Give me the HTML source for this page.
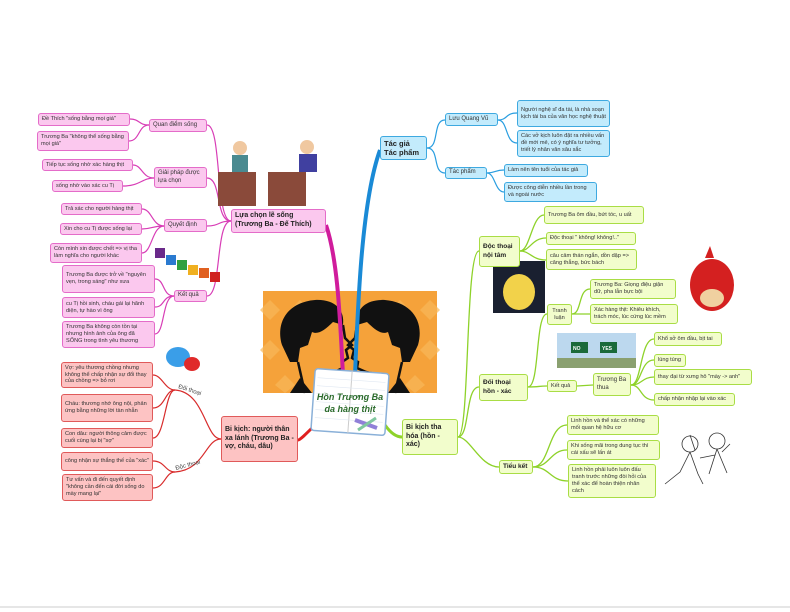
<!DOCTYPE html>
<html><head><meta charset="utf-8"><style>
body{margin:0;width:790px;height:612px;background:#fff;position:relative;overflow:hidden;font-family:"Liberation Sans",sans-serif}
.n{position:absolute;box-sizing:border-box;font-size:5.6px;line-height:1.25;color:#333;padding:1px 3px;border-radius:3px;display:flex;align-items:center}
.p{background:#fbc8ee;border:1.3px solid #e46cc9}
.b{background:#c3ebfc;border:1.3px solid #3ea9e0}
.g{background:#f2fdcc;border:1.3px solid #a9dd45}
.r{background:#fdc3c3;border:1.3px solid #e05a5a}
.h{font-weight:bold;font-size:7px;color:#222}
svg{position:absolute;left:0;top:0}
</style></head><body>
<svg width="790" height="612" viewBox="0 0 790 612" fill="none">
<!-- central image -->
<rect x="263" y="291" width="174" height="102" fill="#f5a23a"/>
<g fill="#f8b85a" opacity=".7">
<path d="M270 300l10 10-10 10-10-10zM300 300l10 10-10 10-10-10zM400 300l10 10-10 10-10-10zM430 300l10 10-10 10-10-10zM270 340l10 10-10 10-10-10zM430 340l10 10-10 10-10-10zM285 375l10 10-10 8-10-8zM415 375l10 10-10 8-10-8z"/></g>
<!-- left head -->
<path d="M282 345 C275 320 290 302 315 300 C335 299 345 310 343 325 L333 322 C325 330 318 335 312 332 L308 345 L300 348 L298 362 L290 362Z" fill="#111"/>
<path d="M343 325 L345 338 L352 345 L346 350 L348 358 L342 362 L343 368 L334 372 L320 375 L315 393" stroke="#111" stroke-width="2.5"/>
<path d="M298 362 L305 393" stroke="#111" stroke-width="2.5"/>
<path d="M300 378 L290 393 L312 393Z" fill="#111"/>
<!-- right head -->
<path d="M418 345 C425 320 410 302 385 300 C365 299 355 310 357 325 L367 322 C375 330 382 335 388 332 L392 345 L400 348 L402 362 L410 362Z" fill="#111"/>
<path d="M357 325 L355 338 L348 345 L354 350 L352 358 L358 362 L357 368 L366 372 L380 375 L385 393" stroke="#111" stroke-width="2.5"/>
<path d="M402 362 L395 393" stroke="#111" stroke-width="2.5"/>
<path d="M400 378 L410 393 L388 393Z" fill="#111"/>
<!-- main branches -->
<path d="M326 225 C338 260 340 320 343 375" stroke="#d01c9c" stroke-width="4"/>
<path d="M380 150 C362 200 358 300 355 375" stroke="#1a8ad6" stroke-width="4"/>
<path d="M315 425 C305 435 300 440 298 440" stroke="#e02020" stroke-width="3"/>
<path d="M385 425 C392 435 398 437 402 437" stroke="#8ed22a" stroke-width="3"/>
<!-- pink connectors -->
<g stroke="#d83db6" stroke-width="1.2">
<path d="M231 221 C215 221 222 125 207 125"/>
<path d="M231 221 C215 221 222 178 207 178"/>
<path d="M231 221 C218 221 220 226 207 226"/>
<path d="M231 221 C215 221 222 296 207 296"/>
<path d="M149 125 C138 125 140 119 130 119"/><path d="M149 125 C138 125 140 141 129 141"/>
<path d="M154 178 C142 178 142 165 133 165"/><path d="M154 178 C142 178 140 186 123 186"/>
<path d="M164 226 C152 226 152 209 142 209"/><path d="M164 226 C152 226 152 229 142 229"/><path d="M164 226 C152 226 152 253 142 253"/>
<path d="M174 296 C162 296 165 279 155 279"/><path d="M174 296 C162 296 165 307 155 307"/><path d="M174 296 C162 296 165 334 155 334"/>
</g>
<!-- blue connectors -->
<g stroke="#2a9ee0" stroke-width="1.2">
<path d="M427 148 C440 148 432 120 445 120"/><path d="M427 148 C440 148 432 173 445 173"/>
<path d="M498 120 C508 120 505 113 517 113"/><path d="M498 120 C508 120 505 143 517 143"/>
<path d="M487 173 C495 173 495 170 504 170"/><path d="M487 173 C495 173 495 192 504 192"/>
</g>
<!-- green connectors -->
<g stroke="#8ed22a" stroke-width="1.3">
<path d="M458 437 C470 437 465 251 479 251"/>
<path d="M458 437 C470 437 465 387 479 387"/>
<path d="M458 437 C470 437 480 467 499 467"/>
<path d="M520 251 C530 251 532 215 544 215"/><path d="M520 251 C530 251 532 238 546 238"/><path d="M520 251 C530 251 532 260 546 260"/>
<path d="M528 387 C540 387 535 314 547 314"/><path d="M528 387 C540 387 538 386 547 386"/>
<path d="M572 314 C582 314 578 289 590 289"/><path d="M572 314 C582 314 580 314 590 314"/>
<path d="M577 386 L593 385"/>
<path d="M631 385 C642 385 640 339 654 339"/><path d="M631 385 C642 385 640 360 654 360"/><path d="M631 385 C642 385 642 377 654 377"/><path d="M631 385 C642 385 640 400 654 400"/>
<path d="M533 467 C550 467 548 425 567 425"/><path d="M533 467 C550 467 550 450 567 450"/><path d="M533 467 C550 467 550 481 568 481"/>
</g>
<!-- red connectors -->
<g stroke="#d82c2c" stroke-width="1.2">
<path d="M221 439 C205 439 205 392 175 390 C165 390 162 375 153 375"/>
<path d="M175 390 C165 390 165 408 153 408"/><path d="M175 390 C165 390 165 438 153 438"/>
<path d="M221 439 C205 439 205 470 175 472 C165 472 165 461 153 461"/><path d="M175 472 C165 472 165 488 153 488"/>
</g>
<text x="178" y="388" font-size="6" fill="#444" transform="rotate(18 178 388)" font-family="Liberation Sans">Đối thoại</text>
<text x="176" y="470" font-size="6" fill="#444" transform="rotate(-15 176 470)" font-family="Liberation Sans">Độc thoại</text>
<!-- decorative images -->
<g><rect x="218" y="172" width="38" height="34" fill="#8a4a3a"/><rect x="268" y="172" width="38" height="34" fill="#8a4a3a"/>
<circle cx="240" cy="148" r="7" fill="#f0c8a0"/><rect x="232" y="155" width="16" height="17" fill="#4a8a90"/>
<circle cx="307" cy="147" r="7" fill="#f0c8a0"/><rect x="299" y="154" width="18" height="18" fill="#4040a0"/></g>
<g><rect x="155" y="248" width="10" height="10" fill="#6a2a8a"/><rect x="166" y="255" width="10" height="10" fill="#2a7ad0"/><rect x="177" y="260" width="10" height="10" fill="#30a040"/><rect x="188" y="265" width="10" height="10" fill="#f0b020"/><rect x="199" y="268" width="10" height="10" fill="#e06020"/><rect x="210" y="272" width="10" height="10" fill="#d02020"/></g>
<g><rect x="493" y="261" width="52" height="52" fill="#1a2030"/><ellipse cx="519" cy="292" rx="16" ry="18" fill="#f2d24a"/></g>
<g><ellipse cx="712" cy="285" rx="22" ry="26" fill="#d42020"/><ellipse cx="712" cy="298" rx="12" ry="9" fill="#f0d0a0"/><path d="M705 258 l5 -12 4 12z" fill="#d42020"/></g>
<g><rect x="557" y="333" width="79" height="35" fill="#bcd8ee"/><rect x="557" y="358" width="79" height="10" fill="#8aa070"/><rect x="571" y="342" width="17" height="11" fill="#1a6a3a"/><rect x="600" y="342" width="17" height="11" fill="#1a6a3a"/>
<text x="573" y="350" font-size="5" fill="#fff" font-weight="bold" font-family="Liberation Sans">NO</text><text x="602" y="350" font-size="5" fill="#fff" font-weight="bold" font-family="Liberation Sans">YES</text></g>
<g stroke="#333" stroke-width="0.8"><circle cx="690" cy="444" r="8"/><circle cx="717" cy="441" r="8"/><path d="M690 452 l-10 20 -15 12 M690 452 l8 22 5 10 M717 449 l-8 25 M717 449 l10 24 M700 458 l15 -3 M722 452 l8 -8 M695 450 l-5 -15"/></g>
<g><ellipse cx="178" cy="357" rx="12" ry="10" fill="#3a9ee8"/><ellipse cx="192" cy="364" rx="8" ry="7" fill="#e02a2a"/></g>
<!-- central book -->
<g transform="rotate(4 350 402)"><rect x="313" y="371" width="74" height="62" rx="3" fill="#fff" stroke="#8ab0d8" stroke-width="1.5"/><line x1="350" y1="371" x2="350" y2="433" stroke="#ccc"/>
<g stroke="#e0e8f2" stroke-width=".6"><line x1="316" y1="380" x2="384" y2="380"/><line x1="316" y1="388" x2="384" y2="388"/><line x1="316" y1="396" x2="384" y2="396"/><line x1="316" y1="404" x2="384" y2="404"/><line x1="316" y1="412" x2="384" y2="412"/><line x1="316" y1="420" x2="384" y2="420"/></g></g>
<path d="M355 420 l22 8" stroke="#9080d8" stroke-width="4"/><path d="M358 430 l18 -12" stroke="#80c8a0" stroke-width="3"/>
<text x="350" y="400" font-size="9" font-style="italic" font-weight="bold" fill="#2a6a2a" text-anchor="middle" font-family="Liberation Sans">Hồn Trương Ba</text>
<text x="350" y="412" font-size="9" font-style="italic" font-weight="bold" fill="#2a6a2a" text-anchor="middle" font-family="Liberation Sans">da hàng thịt</text>
<line x1="0" y1="607" x2="790" y2="607" stroke="#ccc"/>
</svg>
<!-- pink -->
<div class="n p" style="left:38px;top:113px;width:92px;height:13px">Đề Thích "sống bằng mọi giá"</div>
<div class="n p" style="left:37px;top:131px;width:92px;height:20px">Trương Ba "không thể sống bằng mọi giá"</div>
<div class="n p" style="left:149px;top:119px;width:58px;height:13px;font-size:6px">Quan điểm sống</div>
<div class="n p" style="left:42px;top:159px;width:91px;height:12px">Tiếp tục sống nhờ xác hàng thịt</div>
<div class="n p" style="left:52px;top:180px;width:71px;height:12px">sống nhờ vào xác cu Tị</div>
<div class="n p" style="left:154px;top:167px;width:53px;height:21px;font-size:6px">Giải pháp được lựa chọn</div>
<div class="n p" style="left:61px;top:203px;width:81px;height:12px">Trả xác cho người hàng thịt</div>
<div class="n p" style="left:60px;top:223px;width:82px;height:12px">Xin cho cu Tị được sống lại</div>
<div class="n p" style="left:50px;top:243px;width:92px;height:20px">Còn mình xin được chết => vị tha làm nghĩa cho người khác</div>
<div class="n p" style="left:164px;top:219px;width:43px;height:13px;font-size:6px">Quyết định</div>
<div class="n p h" style="left:231px;top:209px;width:95px;height:24px">Lựa chọn lẽ sống (Trương Ba - Đế Thích)</div>
<div class="n p" style="left:62px;top:265px;width:93px;height:28px">Trương Ba được trở về "nguyên vẹn, trong sáng" như xưa</div>
<div class="n p" style="left:62px;top:297px;width:93px;height:21px">cu Tị hồi sinh, cháu gái lại hãnh diện, tự hào vì ông</div>
<div class="n p" style="left:62px;top:321px;width:93px;height:27px">Trương Ba không còn tồn tại nhưng hình ảnh của ông đã SỐNG trong tình yêu thương</div>
<div class="n p" style="left:174px;top:290px;width:33px;height:12px;font-size:6px">Kết quả</div>
<!-- blue -->
<div class="n b h" style="left:380px;top:136px;width:47px;height:24px;font-size:7.5px">Tác giả Tác phẩm</div>
<div class="n b" style="left:445px;top:113px;width:53px;height:13px;font-size:6px">Lưu Quang Vũ</div>
<div class="n b" style="left:517px;top:100px;width:93px;height:27px">Người nghệ sĩ đa tài, là nhà soạn kịch tài ba của văn học nghệ thuật</div>
<div class="n b" style="left:517px;top:130px;width:93px;height:27px">Các vở kịch luôn đặt ra nhiều vấn đề mới mẻ, có ý nghĩa tư tưởng, triết lý nhân văn sâu sắc</div>
<div class="n b" style="left:445px;top:167px;width:42px;height:12px;font-size:6px">Tác phẩm</div>
<div class="n b" style="left:504px;top:164px;width:84px;height:13px">Làm nên tên tuổi của tác giả</div>
<div class="n b" style="left:504px;top:182px;width:93px;height:20px">Được công diễn nhiều lần trong và ngoài nước</div>
<!-- green -->
<div class="n g h" style="left:479px;top:236px;width:41px;height:31px;font-size:6.5px">Độc thoại nội tâm</div>
<div class="n g" style="left:544px;top:206px;width:100px;height:18px">Trương Ba ôm đầu, bứt tóc, u uất</div>
<div class="n g" style="left:546px;top:232px;width:90px;height:13px">Độc thoại " không! không!.."</div>
<div class="n g" style="left:546px;top:249px;width:91px;height:21px">câu cảm thán ngắn, dồn dập => căng thẳng, bức bách</div>
<div class="n g" style="left:590px;top:279px;width:86px;height:20px">Trương Ba: Giọng điệu giận dữ, pha lẫn bực bội</div>
<div class="n g" style="left:590px;top:304px;width:88px;height:20px">Xác hàng thịt: Khiêu khích, trách móc, lúc cứng lúc mềm</div>
<div class="n g" style="left:547px;top:304px;width:25px;height:21px;text-align:center">Tranh luận</div>
<div class="n g h" style="left:479px;top:374px;width:49px;height:27px;font-size:6.5px">Đối thoại hồn - xác</div>
<div class="n g" style="left:547px;top:380px;width:30px;height:12px">Kết quả</div>
<div class="n g" style="left:593px;top:373px;width:38px;height:23px;font-size:6px">Trương Ba thua</div>
<div class="n g" style="left:654px;top:332px;width:68px;height:14px">Khổ sở ôm đầu, bịt tai</div>
<div class="n g" style="left:654px;top:354px;width:32px;height:13px">lúng túng</div>
<div class="n g" style="left:654px;top:369px;width:98px;height:16px">thay đại từ xưng hô "mày -> anh"</div>
<div class="n g" style="left:654px;top:393px;width:81px;height:13px">chấp nhận nhập lại vào xác</div>
<div class="n g h" style="left:402px;top:419px;width:56px;height:36px;font-size:7px">Bi kịch tha hóa (hồn - xác)</div>
<div class="n g h" style="left:499px;top:460px;width:34px;height:14px;font-size:6.5px">Tiểu kết</div>
<div class="n g" style="left:567px;top:415px;width:92px;height:20px">Linh hồn và thể xác có những mối quan hệ hữu cơ</div>
<div class="n g" style="left:567px;top:440px;width:93px;height:20px">Khi sống mãi trong dung tục thì cái xấu sẽ lấn át</div>
<div class="n g" style="left:568px;top:464px;width:88px;height:34px">Linh hồn phải luôn luôn đấu tranh trước những đòi hỏi của thể xác để hoàn thiện nhân cách</div>
<!-- red -->
<div class="n r" style="left:61px;top:362px;width:92px;height:26px">Vợ: yêu thương chồng nhưng không thể chấp nhận sự đổi thay của chồng => bỏ rơi</div>
<div class="n r" style="left:61px;top:394px;width:92px;height:28px">Cháu: thương nhớ ông nội, phản ứng bằng những lời tàn nhẫn</div>
<div class="n r" style="left:61px;top:428px;width:92px;height:20px">Con dâu: người thông cảm được cuối cùng lại bị "sợ"</div>
<div class="n r" style="left:61px;top:452px;width:92px;height:19px">công nhận sự thắng thế của "xác"</div>
<div class="n r" style="left:62px;top:474px;width:91px;height:27px">Tư vấn và đi đến quyết định "không cần đến cái đời sống do mày mang lại"</div>
<div class="n r h" style="left:221px;top:416px;width:77px;height:46px;font-size:7px">Bi kịch: người thân xa lánh (Trương Ba - vợ, cháu, dâu)</div>
</body></html>
